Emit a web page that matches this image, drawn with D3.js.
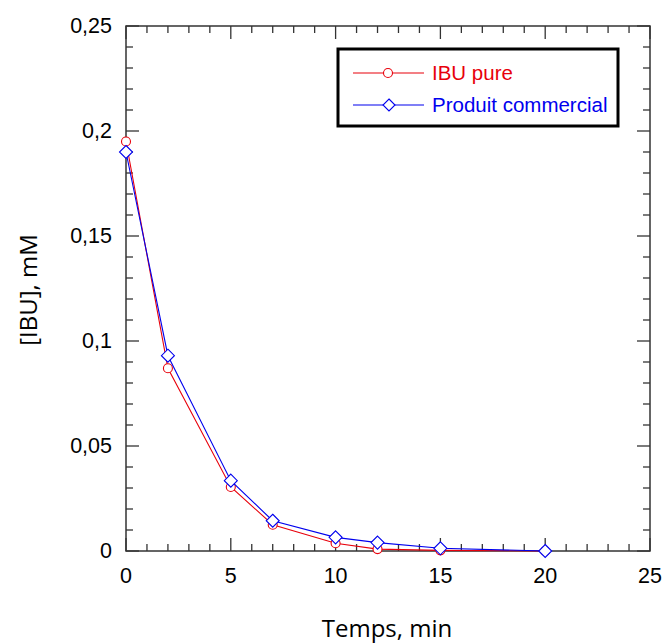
<!DOCTYPE html>
<html><head><meta charset="utf-8">
<script src="https://cdn.jsdelivr.net/npm/d3@7"></script>
<style>body{margin:0;background:#fff}</style>
</head><body>
<svg id="c" width="666" height="644"></svg>
<script>
const times = [0, 2, 5, 7, 10, 12, 15, 20];
const ibuPure = [0.195, 0.087, 0.0305, 0.0125, 0.0037, 0.0009, 0.0003, 0.0];
const produitCommercial = [0.19, 0.093, 0.0335, 0.0144, 0.0065, 0.004, 0.0013, 0.0];
const xTicks = [0, 5, 10, 15, 20, 25];
const yTicks = [0, 0.05, 0.1, 0.15, 0.2, 0.25];
const yTickLabels = ["0", "0,05", "0,1", "0,15", "0,2", "0,25"];
const seriesNames = ["IBU pure", "Produit commercial"];

const svg = d3.select("#c");
const L = 126, R = 650, T = 26, B = 551;
const x = d3.scaleLinear().domain([0, 25]).range([L, R]);
const y = d3.scaleLinear().domain([0, 0.25]).range([B, T]);
const axisColor = "#333";

// frame
svg.append("rect").attr("x", L).attr("y", T).attr("width", R - L).attr("height", B - T)
  .attr("fill", "none").attr("stroke", axisColor).attr("stroke-width", 1.5);

const xMinor = d3.range(0, 25.001, 1);
const yMinor = d3.range(0, 0.2501, 0.01);
const g = svg.append("g").attr("stroke", axisColor).attr("stroke-width", 1.3);
xMinor.forEach(v => {
  const major = Math.abs(v % 5) < 1e-9;
  const len = major ? 13 : 7;
  g.append("line").attr("x1", x(v)).attr("x2", x(v)).attr("y1", B).attr("y2", B - len);
  g.append("line").attr("x1", x(v)).attr("x2", x(v)).attr("y1", T).attr("y2", T + len);
});
yMinor.forEach((v, i) => {
  const major = i % 5 === 0;
  const len = major ? 13 : 7;
  g.append("line").attr("y1", y(v)).attr("y2", y(v)).attr("x1", L).attr("x2", L + len);
  g.append("line").attr("y1", y(v)).attr("y2", y(v)).attr("x1", R).attr("x2", R - len);
});

// tick labels
svg.append("g").selectAll("text").data(xTicks).join("text")
  .attr("x", d => x(d)).attr("y", 583).attr("text-anchor", "middle")
  .attr("font-family", "Liberation Sans, Arial, sans-serif").attr("font-size", 21.5)
  .text(d => d);
svg.append("g").selectAll("text").data(yTicks).join("text")
  .attr("x", 112).attr("y", d => y(d) + 7).attr("text-anchor", "end")
  .attr("font-family", "Liberation Sans, Arial, sans-serif").attr("font-size", 21.5)
  .text((d, i) => yTickLabels[i]);

// axis titles
svg.append("text").attr("x", 387).attr("y", 637).attr("text-anchor", "middle")
  .attr("font-family", "Open Sans, Lato, sans-serif").attr("font-size", 24).text("Temps, min");
svg.append("text").attr("transform", "translate(37,290) rotate(-90)").attr("text-anchor", "middle")
  .attr("font-family", "Open Sans, Lato, sans-serif").attr("font-size", 24).text("[IBU], mM");

const line = d3.line().x((d, i) => x(times[i])).y(d => y(d));
const red = "#e8000b", blue = "#0000ee";

function drawSeries(vals, color, marker) {
  svg.append("path").attr("d", line(vals)).attr("fill", "none").attr("stroke", color).attr("stroke-width", 1.1);
  const mg = svg.append("g");
  vals.forEach((v, i) => {
    if (marker === "circle") {
      mg.append("circle").attr("cx", x(times[i])).attr("cy", y(v)).attr("r", 4.5)
        .attr("fill", "#fff").attr("stroke", color).attr("stroke-width", 1.1);
    } else {
      mg.append("path").attr("transform", `translate(${x(times[i])},${y(v)})`)
        .attr("d", "M0,-6.5L6.5,0L0,6.5L-6.5,0Z").attr("fill", "#fff").attr("stroke", color).attr("stroke-width", 1.1);
    }
  });
}
drawSeries(ibuPure, red, "circle");
drawSeries(produitCommercial, blue, "diamond");

// legend
const lg = svg.append("g");
lg.append("rect").attr("x", 338).attr("y", 49).attr("width", 280).attr("height", 77)
  .attr("fill", "#fff").attr("stroke", "#000").attr("stroke-width", 3);
const rows = [{name: seriesNames[0], color: red, m: "circle", yy: 73},
              {name: seriesNames[1], color: blue, m: "diamond", yy: 105}];
rows.forEach(r => {
  lg.append("line").attr("x1", 353).attr("x2", 424).attr("y1", r.yy).attr("y2", r.yy)
    .attr("stroke", r.color).attr("stroke-width", 1.1);
  if (r.m === "circle") {
    lg.append("circle").attr("cx", 388).attr("cy", r.yy).attr("r", 4.5).attr("fill", "#fff").attr("stroke", r.color).attr("stroke-width", 1.1);
  } else {
    lg.append("path").attr("transform", `translate(389,${r.yy})`).attr("d", "M0,-6L6,0L0,6L-6,0Z")
      .attr("fill", "#fff").attr("stroke", r.color).attr("stroke-width", 1.1);
  }
  lg.append("text").attr("x", 432).attr("y", r.yy + 7).attr("fill", r.color)
    .attr("font-family", "Liberation Sans, Arial, sans-serif").attr("font-size", 20.5).text(r.name);
});
</script>
</body></html>
